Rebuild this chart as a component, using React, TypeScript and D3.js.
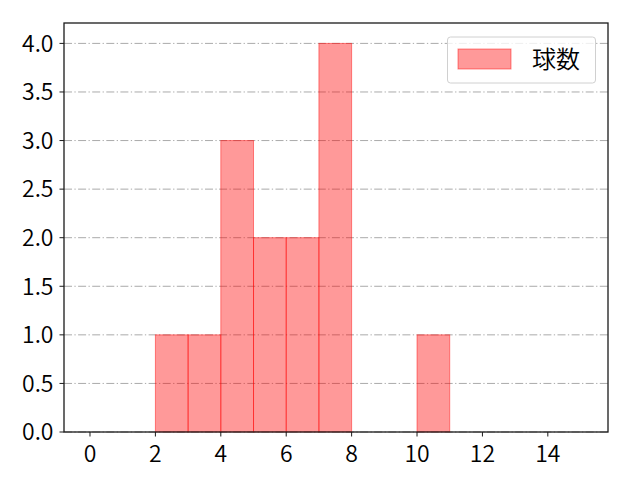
import React from "react";
import * as d3 from "d3";

const binStarts = [2, 3, 4, 5, 6, 7, 10];
const counts = [1, 1, 3, 2, 2, 4, 1];
const xTicks = [0, 2, 4, 6, 8, 10, 12, 14];
const yTicks = [0, 0.5, 1, 1.5, 2, 2.5, 3, 3.5, 4];
const legendLabel = "球数";

const W = 640, H = 480;
const L = 64, R = 608, T = 23, B = 432;
const FONT = "'Noto Sans CJK JP', 'Noto Sans', sans-serif";
const FS = 23;
const FW = 350;

export default function App() {
  const x = d3.scaleLinear().domain([-0.795, 15.84]).range([L, R]);
  const y = d3.scaleLinear().domain([0, 4.21]).range([B, T]);
  return (
    <svg width={W} height={H} style={{ position: "absolute", left: 0, top: 0, background: "#fff" }}>
      <rect x={0} y={0} width={W} height={H} fill="#fff" />
      {yTicks.map((t) => (
        <line key={"g" + t} x1={L} x2={R} y1={y(t)} y2={y(t)} stroke="#aaaaaa" strokeWidth={1} strokeDasharray="8,2.4,1.3,2.4" />
      ))}
      {binStarts.map((s, i) => (
        <rect key={"b" + i} x={x(s)} y={y(counts[i])} width={x(s + 1) - x(s)} height={y(0) - y(counts[i])}
          fill="red" fillOpacity={0.4} stroke="red" strokeOpacity={0.45} strokeWidth={1} />
      ))}
      <rect x={L} y={T} width={R - L} height={B - T} fill="none" stroke="#1a1a1a" strokeWidth={1.3} />
      {xTicks.map((t) => (
        <g key={"x" + t}>
          <line x1={x(t)} x2={x(t)} y1={B} y2={B + 4.5} stroke="#1a1a1a" strokeWidth={1} />
          <text x={x(t)} y={B + 30} textAnchor="middle" fontFamily={FONT} fontWeight={FW} fontSize={FS} fill="#000">{t}</text>
        </g>
      ))}
      {yTicks.map((t) => (
        <g key={"y" + t}>
          <line x1={L - 4.5} x2={L} y1={y(t)} y2={y(t)} stroke="#1a1a1a" strokeWidth={1} />
          <text x={L - 10.5} y={y(t)} dy="0.36em" textAnchor="end" fontFamily={FONT} fontWeight={FW} fontSize={FS} fill="#000">{d3.format(".1f")(t)}</text>
        </g>
      ))}
      <rect x={447.5} y={37} width={148} height={46} rx={3} fill="#fff" fillOpacity={0.8} stroke="#d0d0d0" strokeWidth={1} />
      <rect x={458} y={49} width={53} height={20} fill="red" fillOpacity={0.4} stroke="red" strokeOpacity={0.45} strokeWidth={1} />
      <text x={532} y={59} dy="0.36em" fontFamily={FONT} fontWeight={FW} fontSize={FS + 1} fill="#000">{legendLabel}</text>
    </svg>
  );
}
